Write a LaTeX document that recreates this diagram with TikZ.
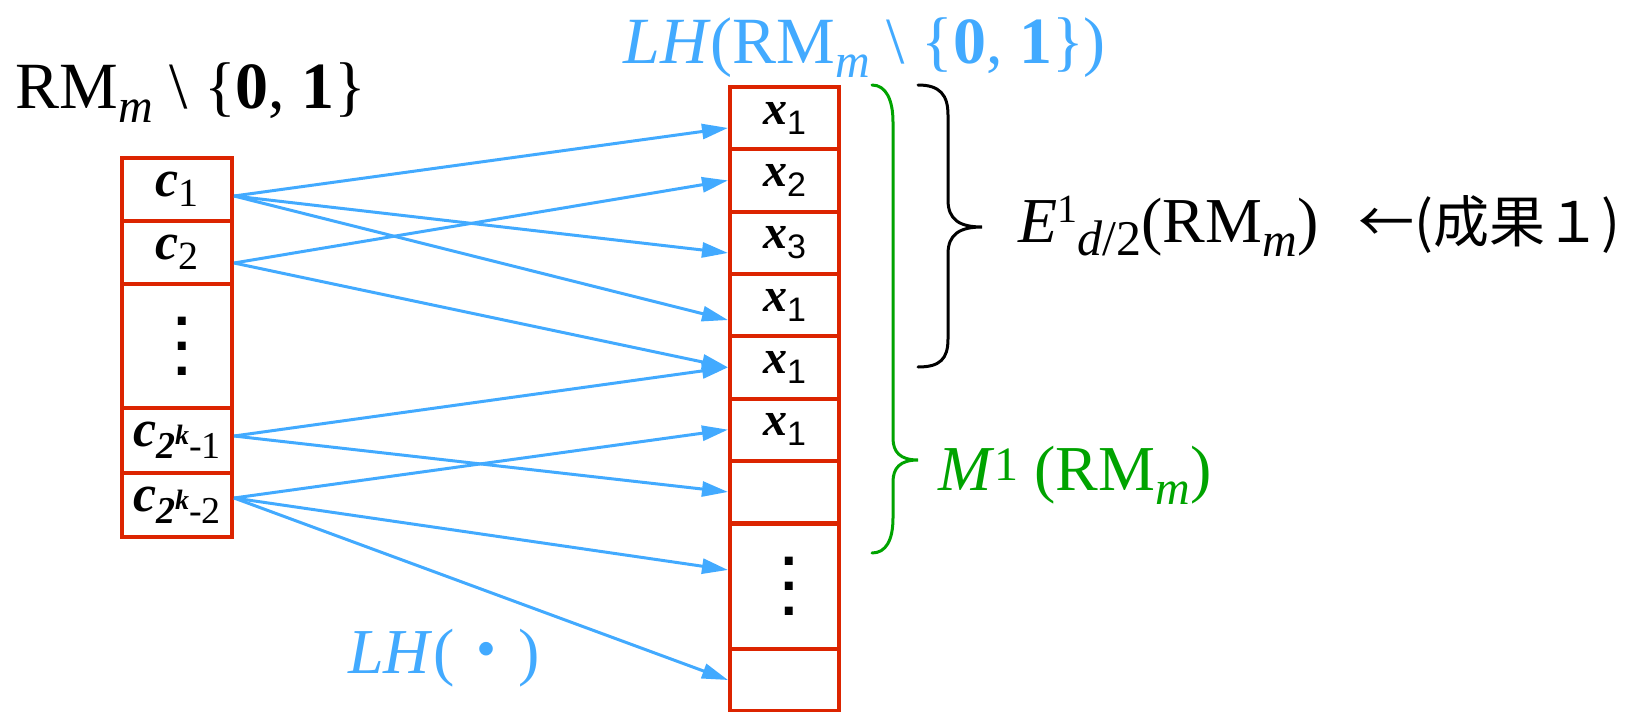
\documentclass[tikz,border=0pt]{standalone}
\usepackage{fontspec}
\setmainfont{Liberation Serif}
\newfontfamily\sansfont{Liberation Sans}
\newfontfamily\cjkfont{Noto Sans CJK JP}
\usepackage{xcolor}
\usepackage{tikz}
\usetikzlibrary{arrows.meta}

\definecolor{cellred}{RGB}{220,36,0}
\definecolor{mapblue}{RGB}{66,170,255}
\definecolor{bracegreen}{RGB}{0,163,0}

\newcommand{\lift}[3]{\raisebox{#1}{\fontsize{#2}{#2}\selectfont #3}}
\newcommand{\RMm}{RM\lift{-7pt}{24pt}{\textit{m}}}
\newcommand{\cv}[1]{\textbf{\textit{c}}\lift{-5pt}{20pt}{#1}}
\newcommand{\ck}[1]{\textbf{\textit{c}}\lift{-6pt}{19pt}{\textbf{\textit{2}}\lift{7pt}{14pt}{\textbf{\textit{k}}}-#1}}
\newcommand{\xv}[1]{\textbf{\textit{x}}\lift{-5pt}{17pt}{\sansfont #1}}
\newcommand{\vdotsq}{{\sansfont\bfseries\fontsize{28}{28}\selectfont
  \vbox{\baselineskip=12.5pt \lineskiplimit=0pt
    \hbox{\kern5pt.}\hbox{\kern5pt.}\hbox{\kern5pt.}}}}

\begin{document}
\begin{tikzpicture}[x=0.5pt,y=-0.5pt]
  \tikzset{
    cell/.style={draw=cellred, line width=2pt, minimum width=55pt,
      minimum height=31.5pt, inner sep=0pt, font=\fontsize{26}{26}\selectfont},
    xcell/.style={cell, minimum width=54.5pt, minimum height=31.15pt,
      font=\fontsize{24}{24}\selectfont},
    map/.style={draw=mapblue, line width=1.5pt, -{Triangle[length=13pt,width=7.5pt]}},
    lbl/.style={anchor=base west, inner sep=0pt, font=\fontsize{33}{40}\selectfont},
    brace/.style={line width=1.5pt, line cap=round}
  }
  \useasboundingbox (0,0) rectangle (1629,712);

  % arrows first, cells on top
  \coordinate (c1p) at (177,189.5);
  \node[cell] (c1) at (c1p) {\cv{1}};
  \node[cell] (c2) at (177,252.5) {\cv{2}};
  \node[cell, minimum height=62pt] (cdots) at (177,346) {\vdotsq};
  \node[cell, minimum height=32.5pt] (ck1) at (177,440.5) {\ck{1}};
  \node[cell, minimum height=32pt] (ck2) at (177,505) {\ck{2}};

  \node[xcell] (r1) at (784.5,118.15) {\xv{1}};
  \node[xcell] (r2) at (784.5,180.45) {\xv{2}};
  \node[xcell] (r3) at (784.5,242.75) {\xv{3}};
  \node[xcell] (r4) at (784.5,305.05) {\xv{1}};
  \node[xcell] (r5) at (784.5,367.35) {\xv{1}};
  \node[xcell] (r6) at (784.5,429.65) {\xv{1}};
  \node[xcell] (r7) at (784.5,491.95) {};
  \node[xcell, minimum height=62.3pt] (r8) at (784.5,586.55) {\vdotsq};
  \node[xcell] (r9) at (784.5,680) {};

  \draw[map] ([yshift=-3.25pt]c1.east) -- ([yshift=-4.9pt]r1.west);
  \draw[map] ([yshift=-3.25pt]c1.east) -- ([yshift=-5.1pt]r3.west);
  \draw[map] ([yshift=-3.25pt]c1.east) -- ([yshift=-7.5pt]r4.west);
  \draw[map] ([yshift=-5.25pt]c2.east) -- (r2.west);
  \draw[map] ([yshift=-5.25pt]c2.east) -- (r5.west);
  \draw[map] ([yshift=2.25pt]ck1.east) -- (r5.west);
  \draw[map] ([yshift=2.25pt]ck1.east) -- (r7.west);
  \draw[map] ([yshift=3.5pt]ck2.east) -- (r6.west);
  \draw[map] ([yshift=3.5pt]ck2.east) -- ([yshift=8.3pt]r8.west);
  \draw[map] ([yshift=3.5pt]ck2.east) -- (r9.west);

  % braces
  \draw[brace] (918,85) .. controls (940,85) and (948,95) .. (948,115)
    -- (948,200) .. controls (948,220) and (960,227) .. (982,227)
    .. controls (960,227) and (948,234) .. (948,254)
    -- (948,339) .. controls (948,359) and (940,367) .. (918,367);
  \draw[brace, bracegreen] (872,85) .. controls (886,85) and (893,100) .. (893,122)
    -- (893,438) .. controls (893,452) and (900,460) .. (918,460)
    .. controls (900,460) and (893,468) .. (893,482)
    -- (893,518) .. controls (893,540) and (886,553) .. (872,553);

  % labels
  \node[lbl] (setL) at (15,108) {\RMm\ \textbackslash\ \{\textbf{0}, \textbf{1}\}};
  \node[lbl, text=mapblue] (setR) at (623,63)
    {\textit{LH}(\RMm\ \textbackslash\ \{\textbf{0}, \textbf{1}\})};
  \node[lbl, font=\fontsize{32}{40}\selectfont] (elabel) at (1018,242)
    {\textit{E}\lift{10pt}{20pt}{1}\lift{-6.5pt}{25pt}{\textit{d}/2}(\RMm)};
  \node[lbl, font=\cjkfont\fontsize{28}{32}\selectfont] (result) at (1358,242) {←(成果１)};
  \node[lbl, text=bracegreen, font=\fontsize{32}{40}\selectfont] (mlabel) at (938,490)
    {\textit{M}\lift{5pt}{24pt}{1} (\RMm)};
  \node[lbl, text=mapblue, font=\fontsize{32}{40}\selectfont] (lhmap) at (348,673)
    {\textit{LH}({\cjkfont ・})};
\end{tikzpicture}
\end{document}
